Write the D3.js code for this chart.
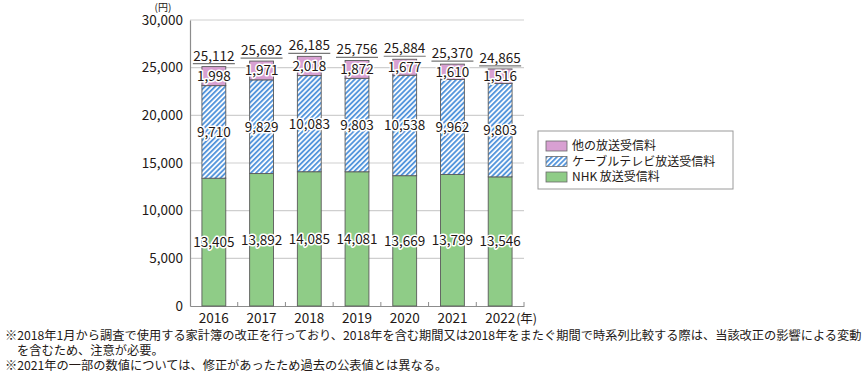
<!DOCTYPE html>
<html>
<head>
<meta charset="utf-8">
<script src="https://cdn.jsdelivr.net/npm/d3@7"></script>
<style>
  body { margin: 0; background: #fff; }
  svg { display: block; font-family: "Noto Sans CJK JP", "Noto Sans", sans-serif; }
</style>
</head>
<body>
<div id="vis"></div>
<script>
// data
const years = ["2016", "2017", "2018", "2019", "2020", "2021", "2022"];
const nhkFee = [13405, 13892, 14085, 14081, 13669, 13799, 13546];
const cableFee = [9710, 9829, 10083, 9803, 10538, 9962, 9803];
const otherFee = [1998, 1971, 2018, 1872, 1677, 1610, 1516];
const totals = [25112, 25692, 26185, 25756, 25884, 25370, 24865];
const yTicks = [0, 5000, 10000, 15000, 20000, 25000, 30000];
const seriesNames = ["他の放送受信料", "ケーブルテレビ放送受信料", "NHK 放送受信料"];
const notes = [
  "※2018年1月から調査で使用する家計簿の改正を行っており、2018年を含む期間又は2018年をまたぐ期間で時系列比較する際は、当該改正の影響による変動",
  "を含むため、注意が必要。",
  "※2021年の一部の数値については、修正があったため過去の公表値とは異なる。",
];

const W = 866, H = 373;
const margin = { top: 20, right: 342, bottom: 67, left: 190 };
const textColor = "#231815";

var svg = d3.select("#vis").append("svg").attr("width", W).attr("height", H);

// hatch for cable
const defs = svg.append("defs");
const pat = defs.append("pattern")
  .attr("id", "hatch")
  .attr("patternUnits", "userSpaceOnUse")
  .attr("width", 3.6).attr("height", 3.6)
  .attr("patternTransform", "rotate(45)");
pat.append("rect").attr("width", 3.6).attr("height", 3.6).attr("fill", "#ffffff");
pat.append("rect").attr("width", 1.9).attr("height", 3.6).attr("fill", "#5596dc");

const colors = { other: "#d8a0d2", cable: "url(#hatch)", nhk: "#8fcc87" };

var x = d3.scaleBand()
  .domain(years)
  .range([margin.left, W - margin.right])
  .paddingInner(0.5)
  .paddingOuter(0.25);

var y = d3.scaleLinear()
  .domain([0, 30000])
  .range([H - margin.bottom, margin.top]);

// gridlines
svg.append("g")
  .selectAll("line")
  .data(yTicks.filter((d) => d > 0))
  .join("line")
  .attr("x1", margin.left)
  .attr("x2", W - margin.right)
  .attr("y1", (d) => y(d))
  .attr("y2", (d) => y(d))
  .attr("stroke", "#cfcfcf")
  .attr("stroke-width", 1.2);

// y axis
const yAxis = d3.axisLeft(y).tickValues(yTicks).tickSize(0).tickPadding(7)
  .tickFormat(d3.format(","));
const yG = svg.append("g").attr("transform", `translate(${margin.left},0)`).call(yAxis);
yG.select(".domain").attr("stroke", "#8c8c8c").attr("stroke-width", 1.2);
yG.selectAll("text")
  .attr("font-family", "Noto Sans CJK JP")
  .attr("font-size", 13.5)
  .attr("fill", textColor);

svg.append("text")
  .attr("x", 163).attr("y", 10.5)
  .attr("text-anchor", "middle")
  .attr("font-size", 10)
  .attr("fill", textColor)
  .text("(円)");

// x axis
const xAxis = d3.axisBottom(x).tickSize(0).tickPadding(7);
const xG = svg.append("g").attr("transform", `translate(0,${y(0)})`).call(xAxis);
xG.select(".domain").attr("stroke", "#8c8c8c").attr("stroke-width", 1.2);
xG.selectAll("text")
  .attr("font-family", "Noto Sans CJK JP")
  .attr("font-size", 13.5)
  .attr("fill", textColor);
// little ticks between categories
xG.selectAll(".sep")
  .data(years)
  .join("line")
  .attr("class", "sep")
  .attr("x1", (d) => x(d) + x.bandwidth() + x.step() * 0.25)
  .attr("x2", (d) => x(d) + x.bandwidth() + x.step() * 0.25)
  .attr("y1", 0)
  .attr("y2", -4)
  .attr("stroke", "#8c8c8c");

svg.append("text")
  .attr("x", x("2022") + x.bandwidth() / 2 + 16)
  .attr("y", y(0) + 16.5)
  .attr("font-size", 12.5)
  .attr("fill", textColor)
  .text("(年)");

// stacked bars
const rows = years.map((yr, i) => ({
  year: yr,
  nhk: nhkFee[i],
  cable: cableFee[i],
  other: otherFee[i],
  total: totals[i],
}));
const stack = d3.stack().keys(["nhk", "cable", "other"])(rows);

const layers = svg.append("g")
  .selectAll("g")
  .data(stack)
  .join("g")
  .attr("fill", (s) => colors[s.key]);

layers.selectAll("rect")
  .data((s) => s)
  .join("rect")
  .attr("x", (d) => x(d.data.year))
  .attr("width", x.bandwidth())
  .attr("y", (d) => y(d[1]))
  .attr("height", (d) => y(d[0]) - y(d[1]))
  .attr("stroke", "#5a5a5a")
  .attr("stroke-width", 0.9);

// segment labels with white halo
layers.selectAll("text")
  .data((s) => s.map((d) => ({ d: d, key: s.key })))
  .join("text")
  .attr("x", (o) => x(o.d.data.year) + x.bandwidth() / 2)
  .attr("y", (o) => (y(o.d[0]) + y(o.d[1])) / 2)
  .attr("dy", "0.36em")
  .attr("text-anchor", "middle")
  .attr("font-size", 13.5)
  .attr("fill", textColor)
  .attr("stroke", "#fff")
  .attr("stroke-width", 3)
  .attr("stroke-linejoin", "round")
  .attr("paint-order", "stroke")
  .text((o) => d3.format(",")(o.d.data[o.key]));

// totals with underline
const tot = svg.append("g")
  .selectAll("g")
  .data(rows)
  .join("g")
  .attr("transform", (d) => `translate(${x(d.year) + x.bandwidth() / 2},${y(d.nhk + d.cable + d.other)})`);
tot.append("text")
  .attr("y", -6)
  .attr("text-anchor", "middle")
  .attr("font-size", 13.5)
  .attr("fill", textColor)
  .text((d) => d3.format(",")(d.total));
tot.append("line")
  .attr("x1", -21).attr("x2", 21)
  .attr("y1", -3).attr("y2", -3)
  .attr("stroke", "#777")
  .attr("stroke-width", 1.2);

// legend
const legend = svg.append("g").attr("transform", "translate(538,131)");
legend.append("rect")
  .attr("width", 195).attr("height", 58)
  .attr("fill", "#fff")
  .attr("stroke", "#9a9a9a");
const legendFills = [colors.other, colors.cable, colors.nhk];
const li = legend.selectAll(".item")
  .data(seriesNames)
  .join("g")
  .attr("class", "item")
  .attr("transform", (d, i) => `translate(8,${15 + i * 15.5})`);
li.append("rect")
  .attr("y", -5).attr("width", 21).attr("height", 10)
  .attr("fill", (d, i) => legendFills[i])
  .attr("stroke", "#6a6a6a")
  .attr("stroke-width", 0.8);
li.append("text")
  .attr("x", 26).attr("dy", "0.36em")
  .attr("font-size", 12)
  .attr("fill", textColor)
  .text((d) => d);

// footnotes, squeezed to fit like the original
const noteG = svg.append("g").attr("font-size", 12).attr("fill", textColor);
const noteText = noteG.selectAll("text")
  .data(notes)
  .join("text")
  .attr("y", (d, i) => 340 + i * 15)
  .text((d) => d);
const full = noteText.nodes()[0].getComputedTextLength();
const squeeze = 857 / full;
noteText.attr("transform", (d, i) => `translate(${i === 1 ? 17 : 5},0) scale(${squeeze},1)`);
</script>
</body>
</html>
